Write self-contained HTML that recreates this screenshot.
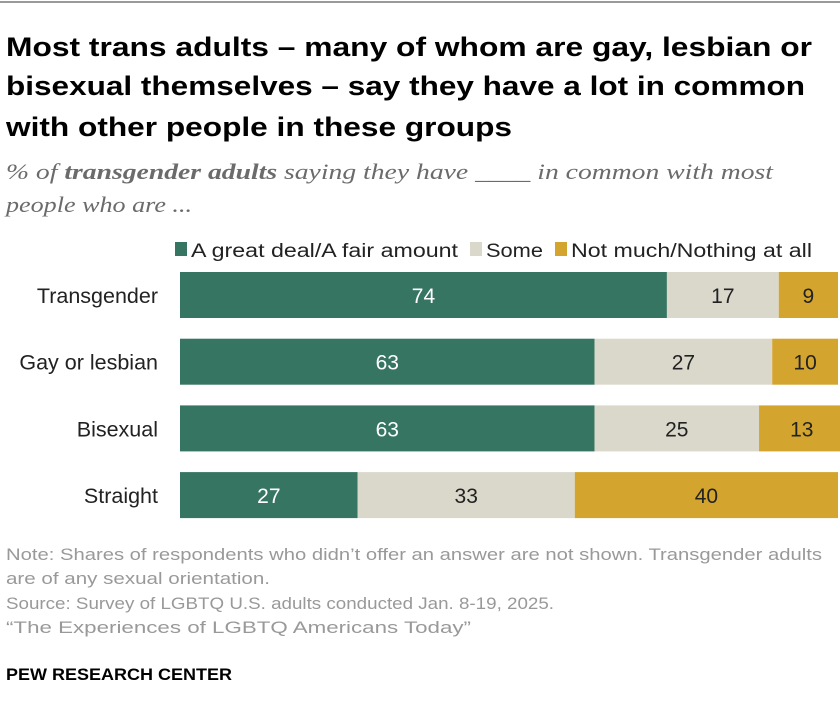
<!DOCTYPE html>
<html><head><meta charset="utf-8"><style>
html,body{margin:0;padding:0;background:#fff;}
svg{display:block;font-family:"Liberation Sans",sans-serif;}
</style></head><body>
<svg id="chart" width="840" height="724" viewBox="0 0 840 724">
<rect x="0" y="1" width="840" height="2" fill="#9a9a9a"/>
<g font-weight="bold" font-size="27" fill="#000">
<text x="6" y="56" textLength="806" lengthAdjust="spacingAndGlyphs">Most trans adults – many of whom are gay, lesbian or</text>
<text x="6" y="95" textLength="799" lengthAdjust="spacingAndGlyphs">bisexual themselves – say they have a lot in common</text>
<text x="6" y="136" textLength="506" lengthAdjust="spacingAndGlyphs">with other people in these groups</text>
</g>
<g font-family="Liberation Serif,serif" font-style="italic" font-size="22" fill="#6b6b6b">
<text x="6" y="179" textLength="767" lengthAdjust="spacingAndGlyphs">% of <tspan font-weight="bold">transgender adults</tspan> saying they have ____ in common with most</text>
<text x="6" y="212" textLength="186" lengthAdjust="spacingAndGlyphs">people who are ...</text>
</g>
<g font-size="19" fill="#222">
<rect x="175" y="242" width="12" height="14" fill="#377563"/>
<text x="191" y="257" textLength="267" lengthAdjust="spacingAndGlyphs">A great deal/A fair amount</text>
<rect x="470" y="242" width="12" height="14" fill="#dad7cb"/>
<text x="486" y="257" textLength="57" lengthAdjust="spacingAndGlyphs">Some</text>
<rect x="555" y="242" width="12" height="14" fill="#d3a52e"/>
<text x="571" y="257" textLength="241" lengthAdjust="spacingAndGlyphs">Not much/Nothing at all</text>
</g>
<g id="bars"></g>
<g font-size="16.5" fill="#999">
<text x="6" y="560" textLength="816" lengthAdjust="spacingAndGlyphs">Note: Shares of respondents who didn’t offer an answer are not shown. Transgender adults</text>
<text x="6" y="584" textLength="264" lengthAdjust="spacingAndGlyphs">are of any sexual orientation.</text>
<text x="6" y="609" textLength="548" lengthAdjust="spacingAndGlyphs">Source: Survey of LGBTQ U.S. adults conducted Jan. 8-19, 2025.</text>
<text x="6" y="633" textLength="465" lengthAdjust="spacingAndGlyphs">“The Experiences of LGBTQ Americans Today”</text>
</g>
<text x="6" y="680" font-size="17" font-weight="bold" fill="#000" textLength="226" lengthAdjust="spacingAndGlyphs">PEW RESEARCH CENTER</text>
</svg>
<script>
const categories = ["Transgender","Gay or lesbian","Bisexual","Straight"];
const greatDeal = [74,63,63,27];
const some = [17,27,25,33];
const notMuch = [9,10,13,40];
const seriesColors = ["#377563","#dad7cb","#d3a52e"];
const textColors = ["#fff","#222","#222"];
const seriesNames = ["great-deal","some","not-much"];
const NS="http://www.w3.org/2000/svg";
const x0=180, pxPer=6.58, y0=272, rowStep=66.7, barH=46;
const xs=v=>x0+v*pxPer;
const ys=i=>y0+i*rowStep;
const g=document.getElementById('bars');
const series=[greatDeal,some,notMuch];
categories.forEach((c,i)=>{
  const lab=document.createElementNS(NS,'text');
  lab.setAttribute('x',158);lab.setAttribute('y',ys(i)+barH/2+8);
  lab.setAttribute('text-anchor','end');lab.setAttribute('font-size','21.5');lab.setAttribute('fill','#222');
  lab.textContent=c;
  
  
  g.appendChild(lab);
  let cum=0;
  series.forEach((s,k)=>{
    const v=s[i];
    const r=document.createElementNS(NS,'rect');
    r.setAttribute('x',xs(cum));r.setAttribute('y',ys(i));
    r.setAttribute('width',xs(cum+v)-xs(cum));r.setAttribute('height',barH);
    r.setAttribute('fill',seriesColors[k]);
    
    
    g.appendChild(r);
    const t=document.createElementNS(NS,'text');
    t.setAttribute('x',(xs(cum)+xs(cum+v))/2);t.setAttribute('y',ys(i)+barH/2+8);
    t.setAttribute('text-anchor','middle');t.setAttribute('font-size','21');t.setAttribute('fill',textColors[k]);
    t.textContent=v;
    
    
    g.appendChild(t);
    cum+=v;
  });
});
</script>
</body></html>
